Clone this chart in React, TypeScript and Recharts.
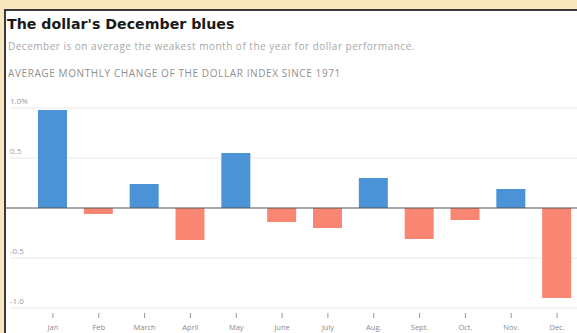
import React from "react";
import { BarChart, Bar, XAxis, YAxis, CartesianGrid, ReferenceLine, Cell } from "recharts";

const months = ["Jan", "Feb", "March", "April", "May", "June", "July", "Aug.", "Sept.", "Oct.", "Nov.", "Dec."];
const changes = [0.98, -0.06, 0.24, -0.32, 0.55, -0.14, -0.2, 0.3, -0.31, -0.12, 0.19, -0.9];
const yTicks = [-1, -0.5, 0.5, 1];
const yTickLabels: Record<string, string> = { "1": "1.0%", "0.5": "0.5", "-0.5": "-0.5", "-1": "-1.0" };

const title = "The dollar's December blues";
const subtitle = "December is on average the weakest month of the year for dollar performance.";
const kicker = "AVERAGE MONTHLY CHANGE OF THE DOLLAR INDEX SINCE 1971";

const data = months.map((m, i) => ({ month: m, value: changes[i] }));

const BLUE = "#4a93d6";
const RED = "#f88672";

const YTick = (props: any) => {
  const { y, payload } = props;
  return (
    <text x={10} y={y - 4} fontSize={8} fill="#9a9a9a" fontFamily="Open Sans" textAnchor="start">
      {yTickLabels[String(payload.value)]}
    </text>
  );
};

const XTick = (props: any) => {
  const { x, payload } = props;
  return (
    <g>
      <line x1={x} x2={x} y1={313} y2={318} stroke="#999" strokeWidth={1} />
      <text x={x} y={330} fontSize={7.5} fill="#8a8a8a" fontFamily="Open Sans" textAnchor="middle">
        {payload.value}
      </text>
    </g>
  );
};

const ZeroLine = (props: any) => {
  const { y1, x2 } = props;
  return <line x1={5} x2={x2 + 40} y1={y1} y2={y1} stroke="#555" strokeWidth={1.2} />;
};

export default function App() {
  return (
    <div style={{ position: "absolute", left: 0, top: 0, width: 577, height: 333, overflow: "hidden", background: "#f9e8bf" }}>
      <div
        style={{
          position: "absolute",
          left: 4,
          top: 9,
          width: 640,
          height: 400,
          background: "#ffffff",
          borderLeft: "2px solid #3a3a3a",
          borderTop: "2px solid #3a3a3a",
        }}
      />
      <div style={{ position: "absolute", left: 0, top: 0 }}>
        <BarChart width={600} height={333} data={data} margin={{ top: 108, bottom: 0, left: 10, right: 20 }}>
          <CartesianGrid vertical={false} x={10} width={590} stroke="#e8e8e8" />
          <YAxis
            type="number"
            domain={[-1, 1]}
            ticks={yTicks}
            width={20}
            axisLine={false}
            tickLine={false}
            tick={<YTick />}
            allowDataOverflow
          />
          <XAxis dataKey="month" height={25} axisLine={false} tickLine={false} tick={<XTick />} interval={0} />
          <Bar dataKey="value" barSize={29} isAnimationActive={false}>
            {data.map((d, i) => (
              <Cell key={i} fill={d.value >= 0 ? BLUE : RED} />
            ))}
          </Bar>
          <ReferenceLine y={0} shape={<ZeroLine />} />
        </BarChart>
      </div>
      <div style={{ position: "absolute", left: 7, top: 16, fontFamily: "DejaVu Sans", fontWeight: "bold", fontSize: 14.2, color: "#1a1a1a", whiteSpace: "nowrap" }}>
        {title}
      </div>
      <div style={{ position: "absolute", left: 8, top: 39, fontFamily: "Open Sans", fontSize: 10, letterSpacing: 0.5, color: "#a8a8a8", whiteSpace: "nowrap" }}>
        {subtitle}
      </div>
      <div style={{ position: "absolute", left: 8, top: 66, fontFamily: "Open Sans", fontSize: 10, letterSpacing: 0.6, color: "#909090", whiteSpace: "nowrap" }}>
        {kicker}
      </div>
    </div>
  );
}
